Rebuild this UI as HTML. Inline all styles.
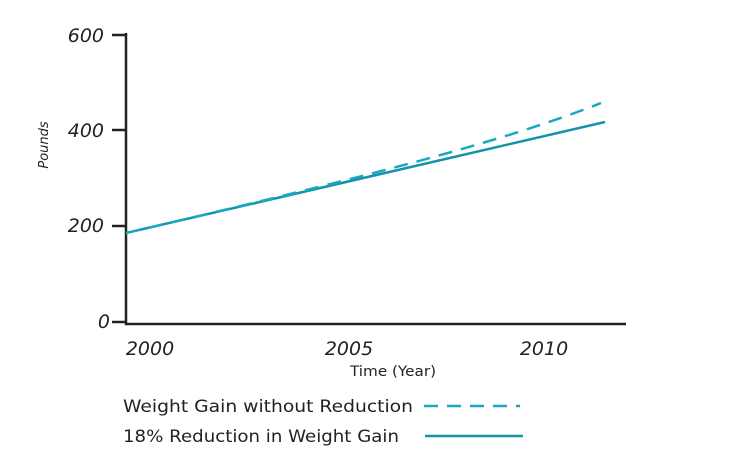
<!DOCTYPE html>
<html><head><style>
body{margin:0;background:#fff;}
svg{display:block;}
text{font-family:"DejaVu Sans","Liberation Sans",sans-serif;fill:#222;}
</style></head><body>
<svg width="736" height="468" viewBox="0 0 736 468">
<g stroke="#222" stroke-width="2.5" fill="none">
<path d="M126 33 V324 H626"/>
<path d="M112 35 H126 M112 130 H126 M112 226 H126 M112 322 H126"/>
</g>
<g font-size="19" font-style="italic" text-anchor="end">
<text x="104" y="42">600</text>
<text x="104" y="137">400</text>
<text x="104" y="232">200</text>
<text x="110" y="328">0</text>
</g>
<g font-size="19" font-style="italic" text-anchor="middle">
<text x="150" y="355">2000</text>
<text x="349" y="355">2005</text>
<text x="544" y="355">2010</text>
</g>
<text x="350" y="376" font-size="14" textLength="86" lengthAdjust="spacingAndGlyphs">Time (Year)</text>
<text transform="translate(48,145) rotate(-90)" font-size="13" font-style="italic" text-anchor="middle">Pounds</text>
<path d="M126 233 L605 122" stroke="#1492a8" stroke-width="2.5" fill="none"/>
<path d="M126 233 C350 181 500 143 601 103" stroke="#1aa8c0" stroke-width="2.5" fill="none" stroke-dasharray="14 9"/>
<text x="123" y="412" font-size="17" textLength="290" lengthAdjust="spacingAndGlyphs">Weight Gain without Reduction</text>
<text x="123" y="442" font-size="17" textLength="276" lengthAdjust="spacingAndGlyphs">18% Reduction in Weight Gain</text>
<path d="M424 406 H520" stroke="#1aa8c0" stroke-width="2.5" stroke-dasharray="14 9"/>
<path d="M425 436 H523" stroke="#1492a8" stroke-width="2.5"/>
</svg>
</body></html>
